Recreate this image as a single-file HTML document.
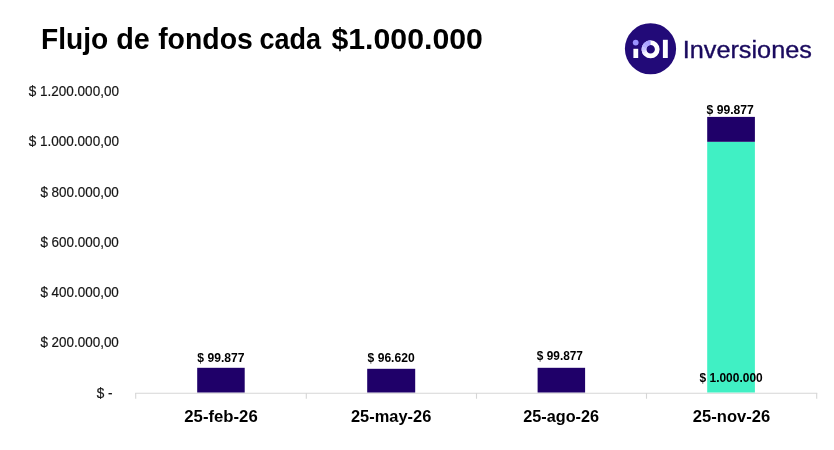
<!DOCTYPE html>
<html>
<head>
<meta charset="utf-8">
<title>Flujo de fondos cada $1.000.000</title>
<style>
html,body{margin:0;padding:0;background:#ffffff;}
body{width:834px;height:450px;overflow:hidden;font-family:"Liberation Sans",sans-serif;}
svg{display:block;will-change:transform;}
text{font-family:"Liberation Sans",sans-serif;white-space:pre;}
</style>
</head>
<body>
<svg width="834" height="450" viewBox="0 0 834 450">
  <rect x="0" y="0" width="834" height="450" fill="#ffffff"/>

  <!-- logo -->
  <circle cx="650.5" cy="48.75" r="25.6" fill="#220a78"/>
  <circle cx="635.7" cy="42.6" r="2.9" fill="#9b93ff"/>
  <rect x="633.4" y="48.8" width="4.8" height="9.2" fill="#ffffff"/>
  <circle cx="650.6" cy="49.3" r="6.65" fill="none" stroke="#ffffff" stroke-width="4.7"/>
  <path d="M650.60 42.65 A6.65 6.65 0 0 0 647.58 43.37" fill="none" stroke="#a59eff" stroke-width="4.7"/>
  <path d="M647.79 43.27 A6.65 6.65 0 0 0 645.36 45.21" fill="none" stroke="#aaa4ff" stroke-width="4.7"/>
  <path d="M645.51 45.03 A6.65 6.65 0 0 0 644.12 47.80" fill="none" stroke="#b4aeff" stroke-width="4.7"/>
  <path d="M644.18 47.58 A6.65 6.65 0 0 0 644.00 50.11" fill="none" stroke="#c5c1ff" stroke-width="4.7"/>
  <path d="M643.98 49.88 A6.65 6.65 0 0 0 644.52 52.00" fill="none" stroke="#dcd9ff" stroke-width="4.7"/>
  <path d="M644.43 51.79 A6.65 6.65 0 0 0 645.66 53.75" fill="none" stroke="#f1f0ff" stroke-width="4.7"/>
  <rect x="662.9" y="39.8" width="4.9" height="18.2" fill="#ffffff"/>

  <!-- axis line and ticks -->
  <g stroke="#d6d6d6" stroke-width="1.1" fill="none">
    <path d="M135.2 393.2 H817.2"/>
    <path d="M135.7 393 V398.8 M306.3 393 V398.8 M476.5 393 V398.8 M646.5 393 V398.8 M816.7 393 V398.8"/>
  </g>

  <!-- bars -->
  <rect x="197.2" y="367.8" width="47.5" height="24.7" fill="#1f0069"/>
  <rect x="367.2" y="368.8" width="48" height="23.7" fill="#1f0069"/>
  <rect x="537.6" y="367.8" width="47.5" height="24.7" fill="#1f0069"/>
  <rect x="707.2" y="141.7" width="47.7" height="250.8" fill="#40f0c4"/>
  <rect x="707.2" y="116.9" width="47.7" height="24.9" fill="#1f0069"/>

  <!-- text -->
  <text y="48.7" font-size="30.2" fill="#000000" font-weight="bold"><tspan x="41.02" textLength="67.23" lengthAdjust="spacingAndGlyphs">Flujo</tspan> <tspan x="116.17" textLength="33.62" lengthAdjust="spacingAndGlyphs">de</tspan> <tspan x="158.13" textLength="94.65" lengthAdjust="spacingAndGlyphs">fondos</tspan> <tspan x="259.60" textLength="61.53" lengthAdjust="spacingAndGlyphs">cada</tspan> <tspan x="331.42" textLength="151.54" lengthAdjust="spacingAndGlyphs">$1.000.000</tspan></text>
  <text x="682.69" y="57.7" font-size="24.2" fill="#1a0a5e" textLength="129.20" lengthAdjust="spacingAndGlyphs" stroke="#1a0a5e" stroke-width="0.35">Inversiones</text>
  <text x="28.76" y="95.9" font-size="14.5" fill="#151515" textLength="90.19" lengthAdjust="spacingAndGlyphs" stroke="#151515" stroke-width="0.2">$ 1.200.000,00</text>
  <text x="28.76" y="146.2" font-size="14.5" fill="#151515" textLength="90.19" lengthAdjust="spacingAndGlyphs" stroke="#151515" stroke-width="0.2">$ 1.000.000,00</text>
  <text x="40.39" y="196.7" font-size="14.5" fill="#151515" textLength="78.46" lengthAdjust="spacingAndGlyphs" stroke="#151515" stroke-width="0.2">$ 800.000,00</text>
  <text x="40.39" y="246.8" font-size="14.5" fill="#151515" textLength="78.46" lengthAdjust="spacingAndGlyphs" stroke="#151515" stroke-width="0.2">$ 600.000,00</text>
  <text x="40.39" y="297.0" font-size="14.5" fill="#151515" textLength="78.46" lengthAdjust="spacingAndGlyphs" stroke="#151515" stroke-width="0.2">$ 400.000,00</text>
  <text x="40.39" y="347.0" font-size="14.5" fill="#151515" textLength="78.46" lengthAdjust="spacingAndGlyphs" stroke="#151515" stroke-width="0.2">$ 200.000,00</text>
  <text x="96.76" y="397.9" font-size="14.5" fill="#151515" textLength="15.84" lengthAdjust="spacingAndGlyphs" stroke="#151515" stroke-width="0.2">$ -</text>
  <text x="197.30" y="361.7" font-size="12.3" fill="#000000" textLength="47.27" lengthAdjust="spacingAndGlyphs" font-weight="bold">$ 99.877</text>
  <text x="367.56" y="361.8" font-size="12.3" fill="#000000" textLength="47.13" lengthAdjust="spacingAndGlyphs" font-weight="bold">$ 96.620</text>
  <text x="536.84" y="360" font-size="12.3" fill="#000000" textLength="46.11" lengthAdjust="spacingAndGlyphs" font-weight="bold">$ 99.877</text>
  <text x="706.50" y="113.8" font-size="12.3" fill="#000000" textLength="47.38" lengthAdjust="spacingAndGlyphs" font-weight="bold">$ 99.877</text>
  <text x="699.50" y="382.2" font-size="12.3" fill="#000000" textLength="63.22" lengthAdjust="spacingAndGlyphs" font-weight="bold">$ 1.000.000</text>
  <text x="184.33" y="421.8" font-size="17.3" fill="#000000" textLength="73.38" lengthAdjust="spacingAndGlyphs" font-weight="bold">25-feb-26</text>
  <text x="350.99" y="421.8" font-size="17.3" fill="#000000" textLength="80.29" lengthAdjust="spacingAndGlyphs" font-weight="bold">25-may-26</text>
  <text x="523.33" y="421.8" font-size="17.3" fill="#000000" textLength="75.70" lengthAdjust="spacingAndGlyphs" font-weight="bold">25-ago-26</text>
  <text x="692.85" y="421.8" font-size="17.3" fill="#000000" textLength="77.39" lengthAdjust="spacingAndGlyphs" font-weight="bold">25-nov-26</text>
</svg>
</body>
</html>
